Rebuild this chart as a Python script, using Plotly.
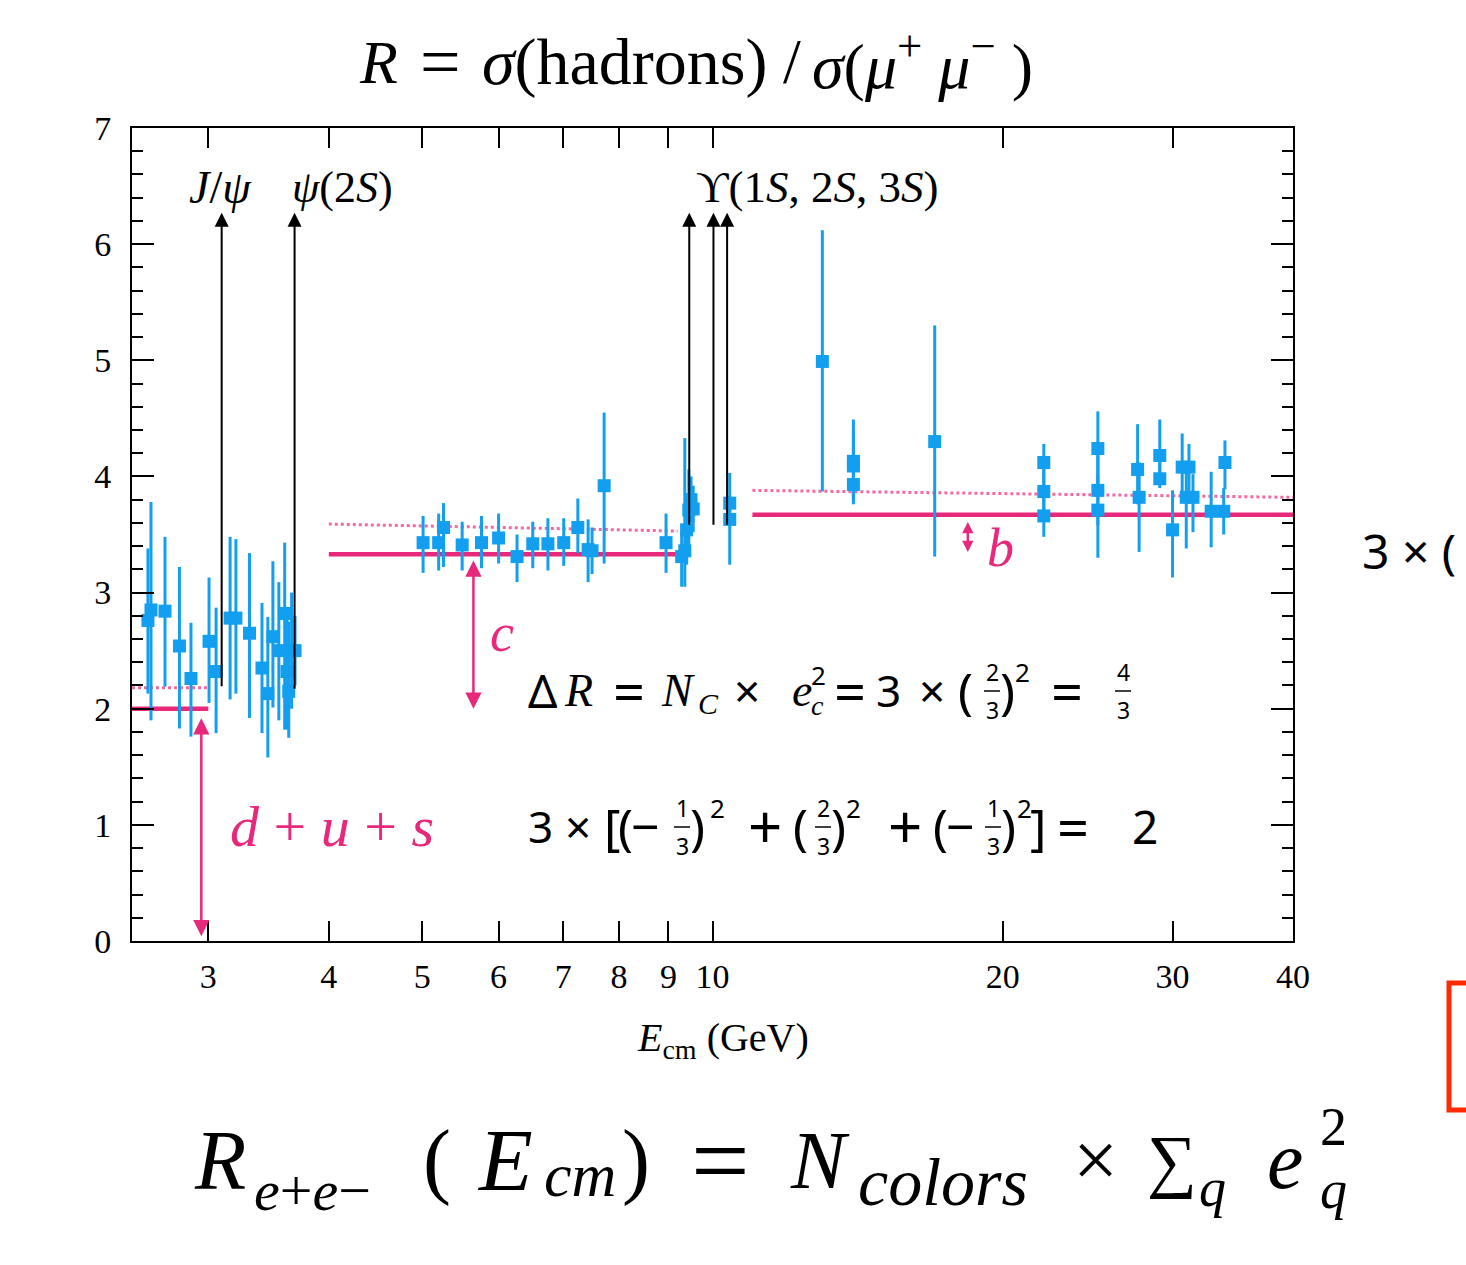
import numpy as np
import plotly.graph_objects as go

# ---------------- data ----------------
E_data = [2.597, 2.616, 2.705, 2.80, 2.878, 3.005, 3.056, 3.16, 3.204, 3.31, 3.41, 3.458, 3.50, 3.55,
          3.60, 3.62, 3.635, 3.66, 3.69,
          5.01, 5.20, 5.26, 5.50, 5.76, 6.00, 6.27, 6.51, 6.75, 7.01, 7.25, 7.43, 7.50, 7.72,
          8.95, 9.29, 9.36, 9.40, 9.45, 9.50, 9.55, 10.42, 10.42,
          13.0, 14.0, 14.0, 14.0, 17.0, 22.06, 22.06, 22.06, 25.1, 25.1, 25.1, 27.6, 27.7,
          29.1, 29.1, 30.0, 30.7, 31.0, 31.2, 31.5, 32.9, 33.9, 34.0]
R_data = [2.76, 2.85, 2.84, 2.54, 2.26, 2.58, 2.32, 2.78, 2.78, 2.65, 2.35, 2.13, 2.62, 2.50,
          2.82, 2.32, 2.15, 2.50, 2.50,
          3.43, 3.43, 3.56, 3.41, 3.43, 3.47, 3.31, 3.42, 3.42, 3.43, 3.56, 3.37, 3.36, 3.92,
          3.43, 3.31, 3.36, 3.54, 3.71, 3.80, 3.72, 3.77, 3.63,
          4.99, 4.13, 4.09, 3.93, 4.30, 4.12, 3.87, 3.66, 4.24, 3.88, 3.71, 4.06, 3.82,
          4.18, 3.98, 3.54, 4.08, 3.82, 4.08, 3.82, 3.70, 3.70, 4.12]
err_up = [0.62, 0.93, 0.64, 0.68, 0.48, 0.55, 0.55, 0.70, 0.68, 0.69, 0.56, 0.66, 0.65, 0.59,
          0.61, 0.50, 0.60, 0.50, 0.30,
          0.23, 0.25, 0.21, 0.20, 0.23, 0.21, 0.19, 0.19, 0.22, 0.21, 0.25, 0.26, 0.20, 0.63,
          0.25, 0.20, 0.97, 0.30, 0.35, 0.20, 0.20, 0.26, 0.20,
          1.13, 0.36, 0.30, 0.20, 1.00, 0.16, 0.20, 0.20, 0.32, 0.30, 0.30, 0.39, 0.30,
          0.31, 0.15, 0.34, 0.29, 0.30, 0.20, 0.20, 0.34, 0.20, 0.19]
err_dn = [0.63, 0.95, 0.65, 0.71, 0.50, 0.53, 0.53, 0.70, 0.65, 0.73, 0.56, 0.55, 0.61, 0.60,
          1.00, 0.50, 0.40, 0.50, 0.30,
          0.26, 0.24, 0.34, 0.22, 0.22, 0.22, 0.22, 0.21, 0.23, 0.20, 0.22, 0.28, 0.20, 0.67,
          0.26, 0.26, 0.31, 0.30, 0.30, 0.20, 0.20, 0.20, 0.39,
          1.12, 0.30, 0.30, 0.17, 0.99, 0.20, 0.20, 0.18, 0.30, 0.30, 0.41, 0.30, 0.47,
          0.20, 0.08, 0.41, 0.30, 0.44, 0.30, 0.30, 0.31, 0.20, 0.23]

# quark-parton model levels (solid) and with QCD correction (dotted)
level_start = [2.5, 4.0, 11.0]
level_end = [3.0, 9.2, 40.0]
level_R = [2.0, 3.33, 3.67]
dotted_R_start = [2.18, 3.59, 3.88]
dotted_R_end = [2.18, 3.53, 3.82]

# resonances
res_E = [3.097, 3.686, 9.46, 10.023, 10.355]
res_R_base = [2.18, 2.16, 3.57, 3.57, 3.57]
res_R_top = 6.27

x_ticks = [3, 4, 5, 6, 7, 8, 9, 10, 20, 30, 40]
y_ticks = [0, 1, 2, 3, 4, 5, 6, 7]

BLUE = "#139ff0"
PINK = "#e8287a"
PINK_DOT = "#f06aa0"
SERIF = "Liberation Serif"
SANS = "Noto Sans"

# ---------------- geometry helpers (pixel -> paper) ----------------
W, H = 1466, 1265
PL, PR, PT, PB = 132, 1293, 128, 941


def pxx(x):
    return (x - PL) / (PR - PL)


def pxy(y):
    return (PB - y) / (PB - PT)


fig = go.Figure()

# pink level lines
for s, e, r in zip(level_start, level_end, level_R):
    fig.add_trace(go.Scatter(x=[s, e], y=[r, r], mode="lines",
                             line=dict(color=PINK, width=4.5), hoverinfo="skip"))
for s, e, r0, r1 in zip(level_start, level_end, dotted_R_start, dotted_R_end):
    fig.add_trace(go.Scatter(x=[s, e], y=[r0, r1], mode="lines",
                             line=dict(color=PINK_DOT, width=3, dash="dot"), hoverinfo="skip"))

# data
fig.add_trace(go.Scatter(
    x=E_data, y=R_data, mode="markers",
    marker=dict(symbol="square", size=13, color=BLUE),
    error_y=dict(type="data", symmetric=False, array=err_up, arrayminus=err_dn,
                 thickness=3, width=0, color=BLUE),
    hoverinfo="skip"))

annotations = []

# resonance arrows
for e, rb in zip(res_E, res_R_base):
    annotations.append(dict(x=np.log10(e), y=res_R_top, ax=np.log10(e), ay=rb,
                            xref="x", yref="y", axref="x", ayref="y", text="",
                            showarrow=True, arrowhead=2, arrowsize=1.4, arrowwidth=2,
                            arrowcolor="black", standoff=0, startstandoff=0))

# pink double arrows
pink_arrows = [(2.95, 0.04, 1.93, 1.3), (5.65, 2.0, 3.29, 1.3), (18.4, 3.35, 3.62, 0.9)]
for e, y0, y1, sz in pink_arrows:
    annotations.append(dict(x=np.log10(e), y=y0, ax=np.log10(e), ay=y1,
                            xref="x", yref="y", axref="x", ayref="y", text="",
                            showarrow=True, arrowhead=2, arrowside="end+start",
                            arrowsize=sz, arrowwidth=2.5, arrowcolor=PINK,
                            standoff=0, startstandoff=0))

shapes = []


def txt(t, x, y, size, family=SERIF, color="black", xanchor="center"):
    annotations.append(dict(text=t, x=pxx(x), y=pxy(y), xref="paper", yref="paper",
                            showarrow=False, xanchor=xanchor, yanchor="middle",
                            font=dict(family=family, size=size, color=color)))


def frac(num, den, x, y, size=23, barw=16):
    annotations.append(dict(text=num, x=pxx(x), y=pxy(y - 2), xref="paper", yref="paper",
                            showarrow=False, xanchor="center", yanchor="bottom", borderpad=0,
                            font=dict(family=SANS, size=size, color="black")))
    annotations.append(dict(text=den, x=pxx(x), y=pxy(y + 2), xref="paper", yref="paper",
                            showarrow=False, xanchor="center", yanchor="top", borderpad=0,
                            font=dict(family=SANS, size=size, color="black")))
    shapes.append(dict(type="line", xref="paper", yref="paper",
                       x0=pxx(x - barw / 2), x1=pxx(x + barw / 2), y0=pxy(y), y1=pxy(y),
                       line=dict(color="black", width=1.5)))


# title
txt("<i>R</i>", 378, 62, 62)
txt("=", 440, 62, 72)
txt("<i>σ</i>(hadrons)", 480, 62, 66, xanchor="left")
txt("/", 792, 62, 64)
txt("<i>σ</i>(<i>μ</i><sup>+</sup> <i>μ</i><sup>−</sup> )", 810, 62, 64, xanchor="left")
# resonance labels
txt("<i>J</i>/<i>ψ</i>", 220, 187, 46)
txt("<i>ψ</i>(2<i>S</i>)", 342, 187, 44)
txt("ϒ(1<i>S</i>, 2<i>S</i>, 3<i>S</i>)", 817, 187, 45)
# pink labels
txt("<i>d</i> + <i>u</i> + <i>s</i>", 332, 826, 58, SERIF, PINK)
txt("<i>c</i>", 502, 633, 54, SERIF, PINK)
txt("<i>b</i>", 1000, 548, 54, SERIF, PINK)
# x-axis title
txt("<i>E</i><sub>cm</sub> (GeV)", 723, 1040, 40)

# formula line 1
Y1 = 690
txt("Δ", 542, Y1, 46, SANS)
txt("<i>R</i>", 578, Y1, 46)
txt("=", 629, Y1, 56, SANS)
txt("<i>N</i>", 678, Y1, 46)
txt("<i>C</i>", 708, Y1 + 13, 30)
txt("×", 747, Y1, 46, SANS)
txt("<i>e</i>", 802, Y1, 46)
txt("2", 818, Y1 - 15, 26, SANS)
txt("<i>c</i>", 817, Y1 + 16, 28)
txt("=", 850, Y1, 56, SANS)
txt("3", 888, Y1, 44, SANS)
txt("×", 932, Y1, 46, SANS)
txt("(", 965, Y1, 50, SANS)
frac("2", "3", 992, Y1 + 1)
txt(")", 1007, Y1, 50, SANS)
txt("2", 1022, Y1 - 18, 26, SANS)
txt("=", 1067, Y1, 56, SANS)
frac("4", "3", 1123, Y1 + 1)

# formula line 2
Y2 = 826
txt("3", 540, Y2, 44, SANS)
txt("×", 578, Y2, 46, SANS)
txt("[", 612, Y2, 50, SANS)
txt("(", 625, Y2, 50, SANS)
txt("−", 645, Y2, 50, SANS)
frac("1", "3", 682, Y2 + 1)
txt(")", 697, Y2, 50, SANS)
txt("2", 717, Y2 - 18, 26, SANS)
txt("+", 765, Y2, 60, SANS)
txt("(", 800, Y2, 50, SANS)
frac("2", "3", 823, Y2 + 1)
txt(")", 839, Y2, 50, SANS)
txt("2", 853, Y2 - 18, 26, SANS)
txt("+", 905, Y2, 60, SANS)
txt("(", 940, Y2, 50, SANS)
txt("−", 960, Y2, 50, SANS)
frac("1", "3", 993, Y2 + 1)
txt(")", 1008, Y2, 50, SANS)
txt("2", 1024, Y2 - 18, 26, SANS)
txt("]", 1038, Y2, 50, SANS)
txt("=", 1073, Y2, 56, SANS)
txt("2", 1145, Y2, 46, SANS)

# right-edge partial text
txt("3 × (", 1360, 550, 48, SANS, xanchor="left")

# bottom formula
YB = 1160
txt("<i>R</i>", 220, YB, 84)
txt("<i>e</i>+<i>e</i>−", 312, YB + 30, 58)
txt("(", 437, YB, 84)
txt("<i>E</i>", 505, YB, 88)
txt("<i>cm</i>", 580, YB + 15, 62)
txt(")", 636, YB, 84)
txt("=", 720, YB, 104)
txt("<i>N</i>", 820, YB, 82)
txt("<i>colors</i>", 943, YB + 22, 68)
txt("×", 1095, YB, 80)
txt("∑", 1172, YB, 70)
txt("<i>q</i>", 1212, YB + 28, 54)
txt("<i>e</i>", 1285, YB, 82)
txt("2", 1333, YB - 33, 54)
txt("<i>q</i>", 1333, YB + 30, 54)

# red partial box at right edge
shapes.append(dict(type="rect", xref="paper", yref="paper",
                   x0=pxx(1449), x1=pxx(1520), y0=pxy(1110), y1=pxy(983),
                   line=dict(color="#ff2a00", width=5)))

fig.update_layout(
    width=W, height=H,
    margin=dict(l=PL, r=W - PR, t=PT, b=H - PB),
    paper_bgcolor="white", plot_bgcolor="white",
    showlegend=False,
    annotations=annotations, shapes=shapes,
    xaxis=dict(type="log", range=[np.log10(2.5), np.log10(40)],
               tickvals=x_ticks, ticktext=[str(v) for v in x_ticks],
               ticks="inside", ticklen=20, tickwidth=2, tickcolor="black",
               showline=True, linewidth=2, linecolor="black", mirror="ticks",
               showgrid=False, zeroline=False, ticklabelstandoff=4,
               tickfont=dict(family=SERIF, size=34, color="black")),
    yaxis=dict(range=[0, 7], tickvals=y_ticks,
               ticks="inside", ticklen=22, tickwidth=2, tickcolor="black",
               minor=dict(ticks="inside", ticklen=11, dtick=0.2, tickwidth=2, tickcolor="black"),
               showline=True, linewidth=2, linecolor="black", mirror="ticks",
               showgrid=False, zeroline=False, ticklabelstandoff=12,
               tickfont=dict(family=SERIF, size=34, color="black")),
)

fig.write_html("out.html")
